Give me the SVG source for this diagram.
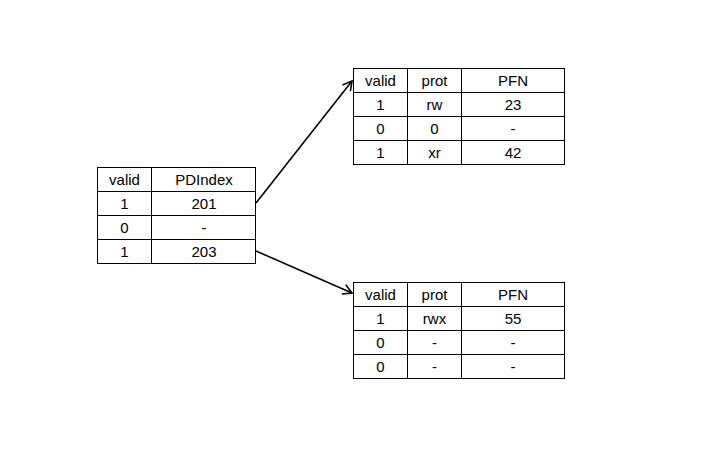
<svg xmlns="http://www.w3.org/2000/svg" width="704" height="450" viewBox="0 0 704 450">
<style>
rect.cell{fill:#fff;stroke:#000;stroke-width:1}
line.g{stroke:#000;stroke-width:1}
text{font-family:"Liberation Sans",Arial,sans-serif;font-size:15px;fill:#000;text-anchor:middle}
.conn{stroke:#000;stroke-width:1.6;fill:none}
</style>
<defs>
<marker id="arr" markerWidth="12" markerHeight="12" refX="10" refY="6" orient="auto" markerUnits="userSpaceOnUse">
<path d="M1,1 L10,6 L1,11" fill="none" stroke="#000" stroke-width="1.6"/>
</marker>
</defs>
<g id="pagedir">
<rect class="cell" x="97.5" y="167.5" width="158" height="96"/>
<line class="g" x1="151.5" y1="167.5" x2="151.5" y2="263.5"/>
<line class="g" x1="97.5" y1="191.5" x2="255.5" y2="191.5"/>
<line class="g" x1="97.5" y1="215.5" x2="255.5" y2="215.5"/>
<line class="g" x1="97.5" y1="239.5" x2="255.5" y2="239.5"/>
<text x="124.5" y="185">valid</text><text x="204" y="185">PDIndex</text>
<text x="124.5" y="209">1</text><text x="204" y="209">201</text>
<text x="124.5" y="233">0</text><text x="204" y="233">-</text>
<text x="124.5" y="257">1</text><text x="204" y="257">203</text>
</g>
<g id="pt201">
<rect class="cell" x="353.5" y="68.5" width="211" height="96"/>
<line class="g" x1="407.5" y1="68.5" x2="407.5" y2="164.5"/>
<line class="g" x1="461.5" y1="68.5" x2="461.5" y2="164.5"/>
<line class="g" x1="353.5" y1="92.5" x2="564.5" y2="92.5"/>
<line class="g" x1="353.5" y1="116.5" x2="564.5" y2="116.5"/>
<line class="g" x1="353.5" y1="140.5" x2="564.5" y2="140.5"/>
<text x="380.5" y="86">valid</text><text x="434.5" y="86">prot</text><text x="513" y="86">PFN</text>
<text x="380.5" y="110">1</text><text x="434.5" y="110">rw</text><text x="513" y="110">23</text>
<text x="380.5" y="134">0</text><text x="434.5" y="134">0</text><text x="513" y="134">-</text>
<text x="380.5" y="158">1</text><text x="434.5" y="158">xr</text><text x="513" y="158">42</text>
</g>
<g id="pt203">
<rect class="cell" x="353.5" y="282.5" width="211" height="96"/>
<line class="g" x1="407.5" y1="282.5" x2="407.5" y2="378.5"/>
<line class="g" x1="461.5" y1="282.5" x2="461.5" y2="378.5"/>
<line class="g" x1="353.5" y1="306.5" x2="564.5" y2="306.5"/>
<line class="g" x1="353.5" y1="330.5" x2="564.5" y2="330.5"/>
<line class="g" x1="353.5" y1="354.5" x2="564.5" y2="354.5"/>
<text x="380.5" y="300">valid</text><text x="434.5" y="300">prot</text><text x="513" y="300">PFN</text>
<text x="380.5" y="324">1</text><text x="434.5" y="324">rwx</text><text x="513" y="324">55</text>
<text x="380.5" y="348">0</text><text x="434.5" y="348">-</text><text x="513" y="348">-</text>
<text x="380.5" y="372">0</text><text x="434.5" y="372">-</text><text x="513" y="372">-</text>
</g>
<g id="connectors">
<line class="conn" x1="256" y1="203" x2="352" y2="81" marker-end="url(#arr)"/>
<line class="conn" x1="256" y1="251" x2="352" y2="293" marker-end="url(#arr)"/>
</g>
</svg>
